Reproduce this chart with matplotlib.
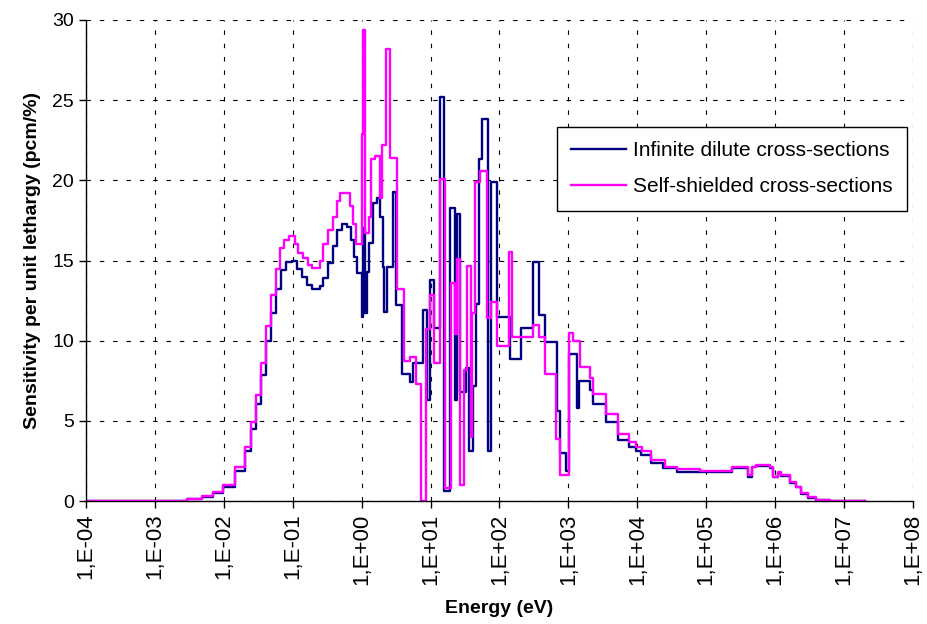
import numpy as np
import matplotlib
matplotlib.use("Agg")
import matplotlib.pyplot as plt

plt.rcParams["font.family"] = ["Liberation Sans", "DejaVu Sans"]

# group boundaries as log10(E / eV), values in pcm/% per unit lethargy
inf_log_edges = [-3.98, -2.53, -2.32, -2.16, -2.01, -1.84, -1.69, -1.61, -1.53, -1.46,
                 -1.39, -1.32, -1.24, -1.17, -1.10, -1.01, -0.94, -0.87, -0.79, -0.72,
                 -0.60, -0.56, -0.49, -0.42, -0.36, -0.29, -0.21, -0.16, -0.11, -0.07,
                 0.00, 0.02, 0.05, 0.08, 0.11, 0.17, 0.22, 0.27, 0.31, 0.33,
                 0.37, 0.45, 0.50, 0.58, 0.70, 0.74, 0.89, 0.95, 0.99, 1.05,
                 1.13, 1.19, 1.28, 1.35, 1.38, 1.43, 1.52, 1.56, 1.61, 1.66,
                 1.70, 1.74, 1.83, 1.87, 1.97, 2.15, 2.31, 2.48, 2.58, 2.66,
                 2.83, 2.88, 2.96, 3.01, 3.13, 3.16, 3.31, 3.36, 3.55, 3.72,
                 3.88, 3.98, 4.06, 4.20, 4.38, 4.57, 4.91, 5.38, 5.60, 5.66,
                 5.73, 5.92, 5.97, 6.04, 6.09, 6.21, 6.31, 6.38, 6.48, 6.60,
                 6.79, 7.30]
inf_values = [0, 0.1, 0.27, 0.5, 0.9, 1.9, 3.1, 4.5, 6.05, 7.85,
              10.0, 11.75, 13.2, 14.4, 14.9, 15.0, 14.5, 14.0, 13.5, 13.2,
              13.4, 13.9, 14.85, 15.9, 16.9, 17.3, 17.1, 16.3, 15.2, 14.2,
              11.5, 17.0, 11.7, 14.3, 16.1, 18.6, 18.9, 17.7, 14.6, 11.8,
              14.6, 19.3, 12.2, 7.95, 7.45, 8.6, 11.9, 6.3, 13.8, 10.8,
              25.2, 0.6, 18.3, 6.3, 17.9, 6.8, 8.3, 3.1, 7.2, 12.3,
              21.3, 23.8, 3.1, 19.9, 11.5, 8.85, 10.8, 14.9, 11.6, 9.95,
              5.6, 3.0, 1.9, 9.15, 5.8, 7.5, 6.9, 6.05, 4.9, 3.8,
              3.4, 3.1, 2.9, 2.4, 2.05, 1.83, 1.8, 2.05, 1.5, 2.1,
              2.2, 2.05, 1.5, 1.75, 1.55, 1.15, 0.85, 0.45, 0.2, 0.05,
              0]

ss_log_edges = [-3.98, -2.53, -2.32, -2.16, -2.01, -1.84, -1.69, -1.61, -1.53, -1.46,
                -1.39, -1.32, -1.24, -1.18, -1.13, -1.06, -0.97, -0.92, -0.85, -0.78,
                -0.72, -0.60, -0.56, -0.49, -0.41, -0.36, -0.31, -0.17, -0.12, -0.08,
                0.00, 0.02, 0.05, 0.10, 0.14, 0.19, 0.27, 0.30, 0.35, 0.41,
                0.51, 0.61, 0.70, 0.79, 0.86, 0.93, 0.99, 1.05, 1.13, 1.21,
                1.29, 1.35, 1.39, 1.43, 1.49, 1.53, 1.58, 1.60, 1.64, 1.72,
                1.82, 1.88, 1.97, 2.14, 2.18, 2.48, 2.58, 2.66, 2.82, 2.88,
                3.01, 3.07, 3.17, 3.31, 3.36, 3.55, 3.72, 3.88, 3.98, 4.07,
                4.20, 4.40, 4.57, 4.91, 5.38, 5.60, 5.66, 5.73, 5.92, 5.97,
                6.04, 6.09, 6.21, 6.31, 6.38, 6.48, 6.60, 6.79, 7.30]
ss_values = [0, 0.12, 0.3, 0.55, 1.0, 2.1, 3.4, 4.9, 6.6, 8.6,
             10.9, 12.85, 14.5, 15.8, 16.3, 16.5, 16.0, 15.45, 15.15, 14.7,
             14.55, 15.0, 16.0, 16.9, 17.7, 18.7, 19.2, 18.4, 17.3, 16.0,
             22.9, 29.4, 16.7, 17.7, 21.3, 21.5, 18.9, 22.2, 28.2, 21.4,
             13.2, 8.75, 9.0, 7.3, 0, 10.7, 12.85, 8.6, 20.1, 0.8,
             13.6, 10.4, 15.1, 1.0, 8.2, 14.65, 4.0, 11.7, 19.9, 20.6,
             11.4, 12.4, 9.7, 15.55, 10.2, 11.0, 10.25, 7.9, 3.9, 1.6,
             10.45, 10.0, 8.35, 7.7, 6.7, 5.4, 4.2, 3.7, 3.4, 3.1,
             2.55, 2.15, 2.0, 1.9, 2.1, 1.6, 2.15, 2.25, 2.1, 1.5,
             1.8, 1.6, 1.2, 0.9, 0.5, 0.23, 0.06, 0]

decades = list(range(-4, 9))
x_tick_labels = [f"1,E{d:+03d}" for d in decades]
y_ticks = [0, 5, 10, 15, 20, 25, 30]


def step_xy(log_edges, values):
    e = 10.0 ** np.array(log_edges)
    v = np.append(values, values[-1])
    return e, v


fig = plt.figure(figsize=(9.27, 6.24), dpi=100)
ax = fig.add_axes([0.0928, 0.197, 0.892, 0.771])

x, y = step_xy(inf_log_edges, inf_values)
ax.step(x, y, where="post", color="#000080", lw=1.7, label="Infinite dilute cross-sections")
x, y = step_xy(ss_log_edges, ss_values)
ax.step(x, y, where="post", color="#FF00FF", lw=1.7, label="Self-shielded cross-sections")

ax.set_xscale("log")
ax.set_xlim(1e-4, 1e8)
ax.set_ylim(0, 30)
ax.set_xticks([10.0 ** d for d in decades])
ax.set_xticklabels(x_tick_labels, rotation=90)
ax.xaxis.set_minor_locator(matplotlib.ticker.NullLocator())
ax.set_yticks(y_ticks)
ax.set_yticklabels([str(t) for t in y_ticks])
ax.tick_params(direction="out", length=5, width=1, colors="black")
ax.tick_params(axis="y", labelsize=14)
ax.tick_params(axis="x", labelsize=16, pad=4)

ax.grid(True, which="major", color="black", linestyle=(0, (4, 8)), linewidth=0.8)
ax.set_axisbelow(True)
for s in ["top", "right"]:
    ax.spines[s].set_visible(False)
for s in ["left", "bottom"]:
    ax.spines[s].set_linewidth(1)

ax.set_xlabel("Energy (eV)", fontsize=14, fontweight="bold", labelpad=11)
ax.set_ylabel("Sensitivity per unit lethargy (pcm/%)", fontsize=14, fontweight="bold", labelpad=8)

leg = ax.legend(loc="upper right", bbox_to_anchor=(0.993, 0.778), bbox_transform=ax.transAxes,
                fontsize=15, frameon=True, fancybox=False, edgecolor="black", framealpha=1,
                handlelength=2.6, handletextpad=0.35, borderpad=0.7, borderaxespad=0,
                labelspacing=0.8)
leg.get_frame().set_linewidth(1)

fig.savefig("out.png", dpi=100)
